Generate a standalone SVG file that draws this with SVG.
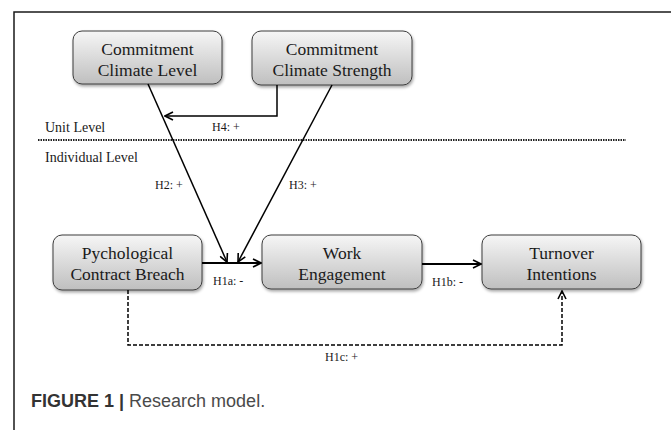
<svg xmlns="http://www.w3.org/2000/svg" width="671" height="430" viewBox="0 0 671 430">
<style>
.box{fill:url(#g);stroke:#3c3c3c;stroke-width:1;filter:url(#sh)}
.bt{font-family:"Liberation Serif","Times New Roman",serif;font-size:17.5px;fill:#1a1a1a;text-anchor:middle}
.lv{font-family:"Liberation Serif","Times New Roman",serif;font-size:14px;fill:#1a1a1a}
.lb{font-family:"Liberation Serif","Times New Roman",serif;font-size:12px;fill:#1a1a1a}
.c{fill:none;stroke:#000;stroke-width:1.5}
.cap{font-family:"Liberation Sans",Arial,sans-serif;font-size:18px;fill:#4a4a4a}
</style>
<defs>
<linearGradient id="g" x1="0" y1="0" x2="0" y2="1">
<stop offset="0" stop-color="#f6f6f6"/>
<stop offset="1" stop-color="#bfbfbf"/>
</linearGradient>
<filter id="sh" x="-10%" y="-10%" width="130%" height="140%">
<feDropShadow dx="1" dy="2" stdDeviation="1.5" flood-color="#000" flood-opacity="0.35"/>
</filter>
<marker id="a" viewBox="0 0 10 10" refX="9" refY="5" markerWidth="10" markerHeight="10" markerUnits="userSpaceOnUse" orient="auto">
<path d="M1,1 L9,5 L1,9" fill="none" stroke="#000" stroke-width="1.6" stroke-dasharray="none"/>
</marker>
</defs>
<rect width="671" height="430" fill="#fff"/>
<path d="M14,430 V12 H671" fill="none" stroke="#1a1a1a" stroke-width="1.5"/>
<line x1="38" y1="140" x2="626" y2="140" stroke="#222" stroke-width="2" stroke-dasharray="1.5,1"/>
<text class="lv" x="45" y="132">Unit Level</text>
<text class="lv" x="45" y="162">Individual Level</text>
<g id="ccl"><rect class="box" x="73" y="31" width="149" height="53" rx="9"/><text class="bt" x="147.5" y="54.5">Commitment</text><text class="bt" x="147.5" y="75.5">Climate Level</text></g>
<g id="ccs"><rect class="box" x="252" y="31" width="160" height="54" rx="9"/><text class="bt" x="332" y="54.5">Commitment</text><text class="bt" x="332" y="75.5">Climate Strength</text></g>
<g id="pcb"><rect class="box" x="53" y="235" width="149" height="55" rx="9"/><text class="bt" x="127.5" y="258.5">Pychological</text><text class="bt" x="127.5" y="279.5">Contract Breach</text></g>
<g id="we"><rect class="box" x="262" y="235" width="160" height="54" rx="9"/><text class="bt" x="342" y="258.5">Work</text><text class="bt" x="342" y="279.5">Engagement</text></g>
<g id="ti"><rect class="box" x="482" y="235" width="159" height="54" rx="9"/><text class="bt" x="561.5" y="258.5">Turnover</text><text class="bt" x="561.5" y="279.5">Intentions</text></g>
<g id="connectors">
<path class="c" d="M148,84 L227,262" marker-end="url(#a)"/>
<path class="c" d="M332,85 L238,262" marker-end="url(#a)"/>
<path class="c" d="M277,85 V116 H165" marker-end="url(#a)"/>
<path class="c" style="stroke-width:2" d="M202,263 H261" marker-end="url(#a)"/>
<path class="c" style="stroke-width:2" d="M422,264 H481" marker-end="url(#a)"/>
<path class="c" style="stroke-dasharray:4,2" d="M128,290 V345 H562 V291" marker-end="url(#a)"/>
<text class="lb" x="212" y="131">H4: +</text>
<text class="lb" x="155" y="189">H2: +</text>
<text class="lb" x="289" y="189">H3: +</text>
<text class="lb" x="213" y="285">H1a: -</text>
<text class="lb" x="432" y="286">H1b: -</text>
<text class="lb" x="325" y="361">H1c: +</text>
</g>
<text class="cap" x="31" y="406.5"><tspan font-weight="bold" fill="#333">FIGURE 1 |</tspan> Research model.</text>
</svg>
